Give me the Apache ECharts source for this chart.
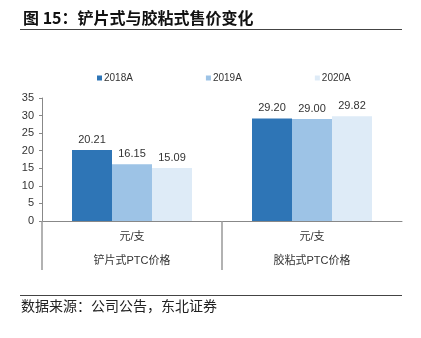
<!DOCTYPE html>
<html><head><meta charset="utf-8">
<script src="https://cdn.jsdelivr.net/npm/echarts@6/dist/echarts.min.js"></script>
<style>html,body{margin:0;padding:0;background:#fff}#c{width:421px;height:338px}</style>
</head><body><div id="c"></div>
<script>
var categories = ['铲片式PTC价格', '胶粘式PTC价格'];
var unitLabels = ['元/支', '元/支'];
var seriesNames = ['2018A', '2019A', '2020A'];
var values2018 = [20.21, 29.20];
var values2019 = [16.15, 29.00];
var values2020 = [15.09, 29.82];
var yTicks = [0, 35, 5];
var titleText = '图 15：铲片式与胶粘式售价变化';
var sourceText = '数据来源：公司公告，东北证券';

var colors = ['#2E75B6', '#9DC3E6', '#DEEBF7'];
var seriesData = [values2018, values2019, values2020];
var sans = 'Liberation Sans, Arial, Noto Sans CJK SC, sans-serif';

var chart = echarts.init(document.getElementById('c'), null, {renderer: 'canvas'});
chart.setOption({
  animation: false,
  title: {
    text: titleText, left: 18, top: 5,
    textStyle: {fontSize: 16, fontWeight: 'bold', color: '#111', fontFamily: 'Noto Sans CJK SC'}
  },
  legend: {
    data: seriesNames, top: 68, left: 92, itemWidth: 5, itemHeight: 5, itemGap: 73,
    icon: 'rect',
    textStyle: {fontSize: 10, color: '#333', fontFamily: sans, padding: [0, 0, 0, -3]}
  },
  grid: {left: 42, right: 19, top: 98, bottom: 117, containLabel: false},
  xAxis: [{
    type: 'category', data: categories,
    axisLine: {lineStyle: {color: '#888', width: 1}},
    axisTick: {show: false},
    axisLabel: {
      margin: 4, fontSize: 11, color: '#333', lineHeight: 24, fontFamily: sans,
      formatter: function (v, i) { return unitLabels[i] + '\n' + v; }
    }
  }, {
    type: 'value', position: 'bottom', min: 0, max: categories.length,
    axisLine: {show: false}, axisLabel: {show: false}, splitLine: {show: false},
    axisTick: {show: true, length: 49, customValues: [0, 1], lineStyle: {color: '#999', width: 1.5}}
  }],
  yAxis: {
    type: 'value', min: yTicks[0], max: yTicks[1], interval: yTicks[2],
    axisLine: {show: true, lineStyle: {color: '#888'}},
    axisTick: {show: true, length: 3, lineStyle: {color: '#888'}},
    splitLine: {show: false},
    axisLabel: {fontSize: 11, color: '#333', margin: 8, fontFamily: sans}
  },
  series: seriesNames.map(function (n, k) {
    return {
      name: n, type: 'bar', xAxisIndex: 0, data: seriesData[k], barWidth: 40, barGap: '0%',
      itemStyle: {color: colors[k]},
      label: {show: true, position: 'top', distance: 5, fontSize: 11, color: '#333', fontFamily: sans,
        formatter: function (p) { return p.value.toFixed(2); }}
    };
  }),
  graphic: [
    {type: 'line', shape: {x1: 20, y1: 29.5, x2: 402, y2: 29.5}, style: {stroke: '#444', lineWidth: 1}},
    {type: 'line', shape: {x1: 20, y1: 295.5, x2: 402, y2: 295.5}, style: {stroke: '#444', lineWidth: 1}},
    {type: 'text', left: 21, top: 299, style: {text: sourceText, fontSize: 14, fill: '#222', fontFamily: 'Noto Sans CJK SC'}}
  ]
});
</script></body></html>
